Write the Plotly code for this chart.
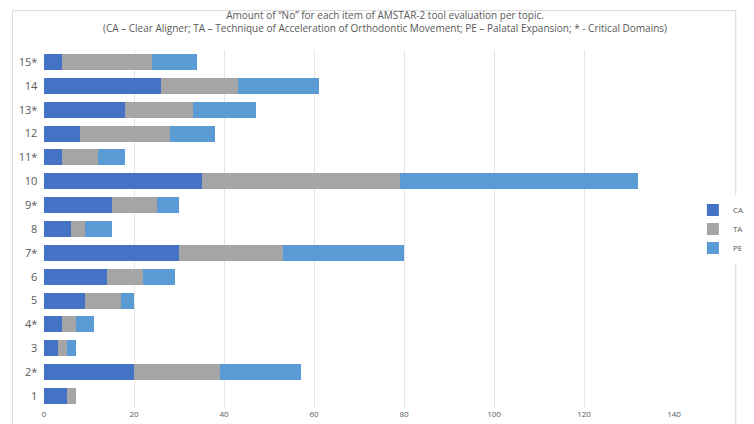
import plotly.graph_objects as go

items = ["1", "2*", "3", "4*", "5", "6", "7*", "8", "9*", "10", "11*", "12", "13*", "14", "15*"]
ca = [5, 20, 3, 4, 9, 14, 30, 6, 15, 35, 4, 8, 18, 26, 4]
ta = [2, 19, 2, 3, 8, 8, 23, 3, 10, 44, 8, 20, 15, 17, 20]
pe = [0, 18, 2, 4, 3, 7, 27, 6, 5, 53, 6, 10, 14, 18, 10]

series = [("CA", ca, "#4472c4"), ("TA", ta, "#a5a5a5"), ("PE", pe, "#5b9bd5")]

fig = go.Figure()
for name, vals, color in series:
    fig.add_trace(go.Bar(x=vals, y=items, orientation="h", name=name,
                         marker=dict(color=color, line=dict(width=0))))

fig.update_layout(
    barmode="stack",
    bargap=0.33,
    width=754, height=424,
    font=dict(family="Open Sans, DejaVu Sans", color="#595959"),
    title=dict(
        text="Amount of \u201cNo\u201d for each item of AMSTAR-2 tool evaluation per topic.<br>"
             "(CA \u2013 Clear Aligner; TA \u2013 Technique of Acceleration of Orthodontic Movement; "
             "PE \u2013 Palatal Expansion; * - Critical Domains)",
        x=0.5, xanchor="center", y=0.975, yanchor="top",
        font=dict(size=10, color="#595959"),
    ),
    xaxis=dict(range=[0, 140], dtick=20, showgrid=True, gridcolor="#e6e6e6",
               zeroline=False, tickfont=dict(size=8), showline=False),
    yaxis=dict(tickfont=dict(size=11), showgrid=False, ticksuffix="  "),
    plot_bgcolor="white", paper_bgcolor="white",
    margin=dict(l=36, r=68, t=42, b=24),
    legend=dict(x=1.03, y=0.5, yanchor="middle", font=dict(size=8),
                traceorder="normal", itemwidth=30),
    shapes=[dict(type="rect", xref="paper", yref="paper", x0=-0.05, x1=1.098,
                 y0=-0.065, y1=1.11, line=dict(color="#d9d9d9", width=1))],
)

fig.write_html("out.html")
